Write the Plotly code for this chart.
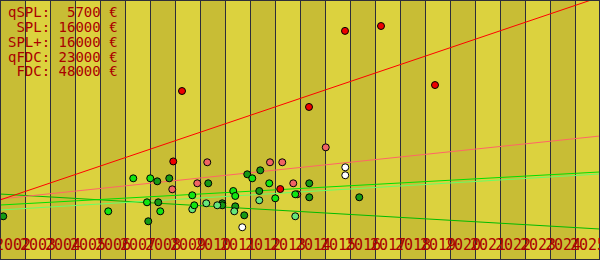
import plotly.graph_objects as go

# ---- data (years as fractional years, prices in EUR) ----
year_start = 2002
year_end = 2026
y_max = 48000

fdc_x = [2008.93, 2009.28, 2013.21, 2014.36, 2015.80, 2017.24, 2019.40]
fdc_y = [18200, 31200, 13100, 28250, 42300, 43200, 32300]

qfdc_x = [2008.89, 2009.89, 2010.29, 2012.80, 2013.29, 2013.73, 2013.89, 2015.03]
qfdc_y = [13050, 14160, 18040, 18040, 18040, 14160, 12130, 20800]

spl_x = [2006.33, 2007.33, 2008.01, 2007.88, 2008.41, 2009.69, 2009.77, 2011.33,
         2011.41, 2012.09, 2012.77, 2013.01, 2013.81]
spl_y = [8990, 15080, 15080, 10650, 8990, 11950, 10100, 12740,
         11820, 15080, 14160, 11390, 12130]

splp_x = [2009.69, 2010.25, 2010.69, 2011.37, 2012.37, 2013.81]
splp_y = [9360, 10470, 10100, 8990, 11020, 8070]

qspl_x = [2002.13, 2007.93, 2008.29, 2008.33, 2008.77, 2010.33, 2010.89, 2010.89,
          2011.41, 2011.77, 2011.89, 2012.37, 2012.41, 2014.37, 2014.37, 2016.37]
qspl_y = [8070, 7150, 14530, 10650, 15080, 14160, 10470, 10100,
          9910, 8250, 15820, 12740, 16560, 14160, 11580, 11580]

other_x = [2015.81, 2015.81, 2011.69]
other_y = [17110, 15640, 6040]

# trend lines: value at year_start and at year_end
trend_years = [2002, 2026]
fdc_trend = [11080, 48550]
qfdc_trend = [11260, 22890]
spl_trend = [10150, 16250]
splp_trend = [9230, 15880]
qspl_trend = [12180, 5720]

legend_rows = [
    "qSPL:\u00a0\u00a05700\u00a0€",
    "\u00a0SPL:\u00a016000\u00a0€",
    "SPL+:\u00a016000\u00a0€",
    "qFDC:\u00a023000\u00a0€",
    "\u00a0FDC:\u00a048000\u00a0€",
]
year_labels = [str(y) for y in range(year_start, year_end)]

# ---- styles ----
LIGHT = "#dcd23e"
DARK = "#c8bd35"
GRID = "#2e2e3a"
TXT = "#aa0000"
MONO = "DejaVu Sans Mono"
W, H = 600, 260
PX = (year_end - year_start) / W  # one pixel in x data units

fig = go.Figure()

# trend lines
for ys, col in [(qspl_trend, "#00bb00"), (splp_trend, "#66ff66"), (spl_trend, "#00e000"),
                (qfdc_trend, "#ff6666"), (fdc_trend, "#ff0000")]:
    fig.add_trace(go.Scatter(x=trend_years, y=ys, mode="lines",
                             line=dict(color=col, width=1), hoverinfo="skip"))

# points
for xs, ys, col in [(fdc_x, fdc_y, "#ee0000"), (qfdc_x, qfdc_y, "#f06464"),
                    (other_x, other_y, "#ffffff"), (qspl_x, qspl_y, "#159915"),
                    (splp_x, splp_y, "#66e67a"), (spl_x, spl_y, "#11e611")]:
    fig.add_trace(go.Scatter(x=xs, y=ys, mode="markers",
                             marker=dict(size=7, color=col, line=dict(color="#000000", width=1))))

shapes = []
for i, y in enumerate(range(year_start, year_end)):
    shapes.append(dict(type="rect", xref="x", yref="paper", x0=y, x1=y + 1, y0=0, y1=1,
                       fillcolor=DARK if i % 2 == 0 else LIGHT, line=dict(width=0), layer="below"))
for y in range(year_start + 1, year_end):
    shapes.append(dict(type="line", xref="x", yref="paper", x0=y + PX / 2, x1=y + PX / 2, y0=0, y1=1,
                       line=dict(color=GRID, width=1), layer="below"))
shapes.append(dict(type="rect", xref="paper", yref="paper", x0=0, x1=1, y0=0, y1=1,
                   line=dict(color=GRID, width=2), fillcolor="rgba(0,0,0,0)", layer="above"))

annotations = []
baselines = [17, 32, 47, 62, 76]
for txt, b in zip(legend_rows, baselines):
    annotations.append(dict(text=txt, xref="paper", yref="paper", x=6 / W, y=1 - (b - 4.9) / H,
                            xanchor="left", yanchor="middle", showarrow=False,
                            font=dict(family=MONO, size=14, color=TXT)))
for i, lab in enumerate(year_labels):
    annotations.append(dict(text=lab, xref="x", yref="paper", x=year_start + i + 0.5,
                            y=1 - 245.3 / H, xanchor="center", yanchor="middle", showarrow=False,
                            font=dict(family=MONO, size=15, color=TXT)))

fig.update_layout(
    width=W, height=H, margin=dict(l=0, r=0, t=0, b=0),
    paper_bgcolor=LIGHT, plot_bgcolor=LIGHT, showlegend=False,
    xaxis=dict(range=[year_start, year_end], showgrid=False, zeroline=False,
               showticklabels=False, ticks="", fixedrange=True),
    yaxis=dict(range=[0, y_max], showgrid=False, zeroline=False,
               showticklabels=False, ticks="", fixedrange=True),
    shapes=shapes, annotations=annotations,
)

fig.write_html("out.html", config={"displayModeBar": False})
